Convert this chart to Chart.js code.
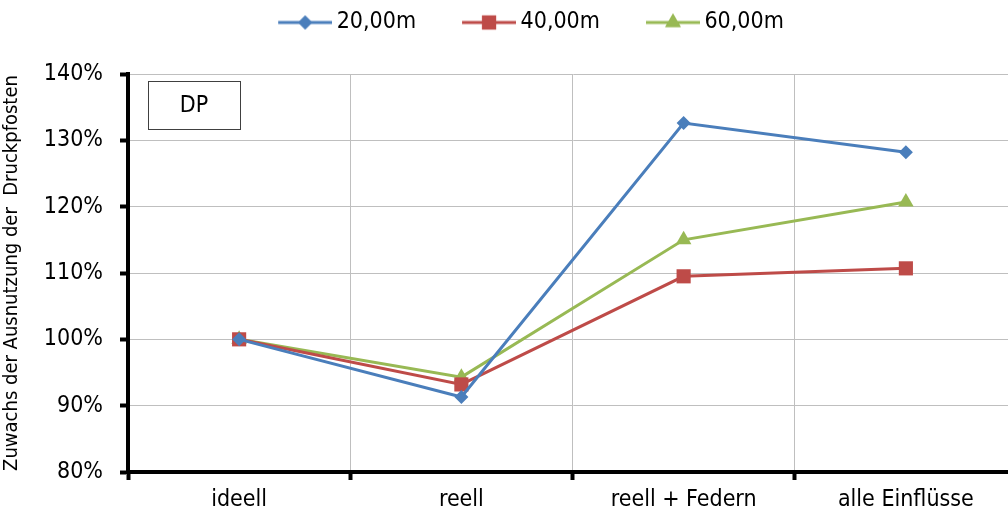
<!DOCTYPE html>
<html>
<head>
<meta charset="utf-8">
<script src="https://cdn.jsdelivr.net/npm/chart.js@4.4.0/dist/chart.umd.min.js"></script>
<style>
  html, body { margin: 0; padding: 0; background: #fff; overflow: hidden; }
  canvas { display: block; }
</style>
</head>
<body>
<canvas id="chart" width="1027" height="520"></canvas>
<script>
const categories = ['ideell', 'reell', 'reell + Federn', 'alle Einflüsse'];
const seriesNames = ['20,00m', '40,00m', '60,00m'];
const values20 = [100, 91.3, 132.6, 128.2];
const values40 = [100, 93.2, 109.5, 110.7];
const values60 = [100, 94.3, 115.0, 120.7];
const yTicks = [80, 90, 100, 110, 120, 130, 140];

const FONT = "'DejaVu Sans Condensed', 'DejaVu Sans', sans-serif";
const colors = ['#4a7ebb', '#be4b48', '#98b954'];
const markers = ['rectRot', 'rect', 'triangle'];
const markerRadius = [7, 10, 9];

// small line + marker icons for the legend
const iconMargin = 42, iconLine = 54;
function makeIcon(color, style, radius) {
    const c = document.createElement('canvas');
    c.width = iconMargin + iconLine;
    c.height = 22;
    const g = c.getContext('2d');
    g.strokeStyle = color;
    g.lineWidth = 3;
    g.beginPath();
    g.moveTo(iconMargin, 11);
    g.lineTo(iconMargin + iconLine, 11);
    g.stroke();
    g.fillStyle = color;
    Chart.helpers.drawPoint(g, { pointStyle: style, radius: radius, borderWidth: 0 },
        iconMargin + iconLine / 2, 11);
    g.fill();
    return c;
}
const icons = colors.map((c, i) => makeIcon(c, markers[i], markerRadius[i]));

// "DP" box in the upper left of the plot
const dpBox = {
    id: 'dpBox',
    afterDraw(chart) {
        const { ctx, chartArea } = chart;
        const x = chartArea.left + 20, y = chartArea.top + 7;
        ctx.save();
        ctx.fillStyle = '#fff';
        ctx.fillRect(x, y, 92, 48);
        ctx.strokeStyle = '#404040';
        ctx.lineWidth = 1;
        ctx.strokeRect(x + 0.5, y + 0.5, 92, 48);
        ctx.fillStyle = '#000';
        ctx.font = '23px ' + FONT;
        ctx.textAlign = 'center';
        ctx.textBaseline = 'middle';
        ctx.fillText('DP', x + 46, y + 25);
        ctx.restore();
    }
};

const allValues = [values20, values40, values60];

new Chart(document.getElementById('chart'), {
    type: 'line',
    data: {
        labels: categories,
        datasets: seriesNames.map((name, i) => ({
            label: name,
            data: allValues[i],
            borderColor: colors[i],
            backgroundColor: colors[i],
            borderWidth: 3,
            pointStyle: markers[i],
            pointRadius: markerRadius[i],
            pointHoverRadius: markerRadius[i],
            pointBorderWidth: 0,
            tension: 0
        }))
    },
    options: {
        responsive: false,
        animation: false,
        devicePixelRatio: 1,
        layout: { padding: 0 },
        plugins: {
            tooltip: { enabled: false },
            legend: {
                position: 'top',
                labels: {
                    usePointStyle: true,
                    pointStyleWidth: iconMargin + iconLine - 14,
                    padding: 11,
                    color: '#000',
                    font: { family: FONT, size: 23 },
                    generateLabels(chart) {
                        const items = Chart.defaults.plugins.legend.labels.generateLabels(chart);
                        items.forEach((it, i) => { it.pointStyle = icons[i]; });
                        return items;
                    }
                }
            },
            // empty title used as a gap between legend and plot
            title: {
                display: true,
                text: ' ',
                weight: 500,
                font: { size: 10, lineHeight: 1.2 },
                padding: { top: 0, bottom: 18 }
            }
        },
        scales: {
            x: {
                offset: true,
                grid: {
                    offset: true,
                    color: '#bfbfbf',
                    lineWidth: 1,
                    tickColor: '#000',
                    tickWidth: 4,
                    tickLength: 8
                },
                border: { color: '#000', width: 4 },
                ticks: {
                    color: '#000',
                    padding: 6,
                    font: { family: FONT, size: 23 }
                },
                afterFit(scale) { scale.height = 48; }
            },
            y: {
                min: 80,
                max: 140,
                afterBuildTicks(scale) { scale.ticks = yTicks.map(v => ({ value: v })); },
                grid: {
                    color: '#bfbfbf',
                    lineWidth: 1,
                    tickColor: '#000',
                    tickWidth: 4,
                    tickLength: 8
                },
                border: { color: '#000', width: 4 },
                ticks: {
                    color: '#000',
                    padding: 17,
                    font: { family: FONT, size: 23 },
                    callback: v => v + '%'
                },
                title: {
                    display: true,
                    text: 'Zuwachs der Ausnutzung der  Druckpfosten',
                    color: '#000',
                    font: { family: FONT, size: 20 },
                    padding: 0
                },
                afterFit(scale) { scale.width = 128; }
            }
        }
    },
    plugins: [dpBox]
});
</script>
</body>
</html>
